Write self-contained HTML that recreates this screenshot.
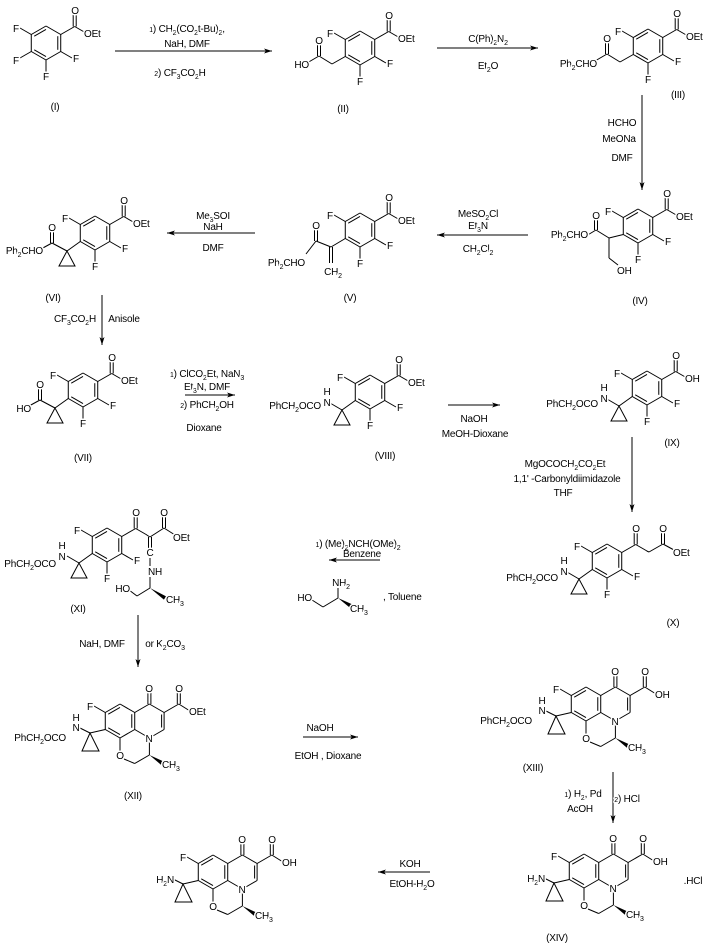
<!DOCTYPE html>
<html><head><meta charset="utf-8"><style>
html,body{margin:0;padding:0;background:#fff;}
svg{display:block}
line,polyline{stroke:#000;stroke-width:1;fill:none}
text{font-family:"Liberation Sans",sans-serif;font-size:10px;letter-spacing:-0.2px;fill:#000;text-anchor:middle;paint-order:stroke;stroke:#fff;stroke-width:3px;stroke-linejoin:round}
text.s{text-anchor:start} text.e{text-anchor:end}
tspan.b{font-size:7px}
</style></head><body>
<svg id="svg" width="710" height="944" viewBox="0 0 710 944" xmlns="http://www.w3.org/2000/svg">
<g id="g"></g>
<g id="tx">
<!-- I -->
<text x="75" y="14">O</text><text x="16" y="32">F</text><text class="s" x="84" y="37">OEt</text><text x="76" y="62">F</text><text x="46" y="80">F</text><text x="16" y="64">F</text>
<text x="55" y="110">(I)</text>
<!-- arrow1 -->
<text x="187" y="32"><tspan class="b">1</tspan>) CH<tspan class="b" dy="3">2</tspan><tspan dy="-3">(CO</tspan><tspan class="b" dy="3">2</tspan><tspan dy="-3">t-Bu)</tspan><tspan class="b" dy="3">2</tspan><tspan dy="-3">,</tspan></text>
<text x="187" y="47">NaH, DMF</text>
<text x="180" y="76"><tspan class="b">2</tspan>) CF<tspan class="b" dy="3">3</tspan><tspan dy="-3">CO</tspan><tspan class="b" dy="3">2</tspan><tspan dy="-3">H</tspan></text>
<!-- II -->
<text x="389" y="19">O</text><text x="330" y="37">F</text><text class="s" x="398" y="42">OEt</text><text x="390" y="67">F</text><text x="360" y="85">F</text>
<text x="319" y="44">O</text><text class="e" x="309" y="68">HO</text>
<text x="343" y="112">(II)</text>
<!-- arrow2 -->
<text x="488" y="42">C(Ph)<tspan class="b" dy="3">2</tspan><tspan dy="-3">N</tspan><tspan class="b" dy="3">2</tspan></text>
<text x="488" y="69">Et<tspan class="b" dy="3">2</tspan><tspan dy="-3">O</tspan></text>
<!-- III -->
<text x="677" y="17">O</text><text x="618" y="35">F</text><text class="s" x="686" y="40">OEt</text><text x="678" y="65">F</text><text x="648" y="83">F</text>
<text x="607" y="42">O</text><text class="e" x="597" y="67">Ph<tspan class="b" dy="3">2</tspan><tspan dy="-3">CHO</tspan></text>
<text x="678" y="98">(III)</text>
<!-- arrow3 -->
<text x="622" y="126">HCHO</text><text x="619" y="142">MeONa</text><text x="622" y="161">DMF</text>
<!-- IV -->
<text x="667" y="197">O</text><text x="608" y="215">F</text><text class="s" x="676" y="220">OEt</text><text x="668" y="245">F</text><text x="638" y="263">F</text>
<text x="596" y="219">O</text><text class="e" x="588" y="238">Ph<tspan class="b" dy="3">2</tspan><tspan dy="-3">CHO</tspan></text>
<text class="s" x="617" y="274">OH</text>
<text x="640" y="304">(IV)</text>
<!-- arrow4 -->
<text x="478" y="217">MeSO<tspan class="b" dy="3">2</tspan><tspan dy="-3">Cl</tspan></text>
<text x="478" y="229">Et<tspan class="b" dy="3">3</tspan><tspan dy="-3">N</tspan></text>
<text x="478" y="252">CH<tspan class="b" dy="3">2</tspan><tspan dy="-3">Cl</tspan><tspan class="b" dy="3">2</tspan></text>
<!-- V -->
<text x="389" y="201">O</text><text x="330" y="219">F</text><text class="s" x="398" y="224">OEt</text><text x="390" y="249">F</text><text x="360" y="267">F</text>
<text x="316" y="229">O</text><text class="e" x="305" y="266">Ph<tspan class="b" dy="3">2</tspan><tspan dy="-3">CHO</tspan></text>
<text x="333" y="275">CH<tspan class="b" dy="3">2</tspan></text>
<text x="350" y="301">(V)</text>
<!-- arrow5 -->
<text x="213" y="219">Me<tspan class="b" dy="3">3</tspan><tspan dy="-3">SOI</tspan></text>
<text x="213" y="230">NaH</text><text x="213" y="251">DMF</text>
<!-- VI -->
<text x="124" y="204">O</text><text x="65" y="222">F</text><text class="s" x="133" y="227">OEt</text><text x="125" y="252">F</text><text x="95" y="270">F</text>
<text x="52" y="231">O</text><text class="e" x="43" y="254">Ph<tspan class="b" dy="3">2</tspan><tspan dy="-3">CHO</tspan></text>
<text x="53" y="301">(VI)</text>
<!-- arrow6 -->
<text x="75" y="322">CF<tspan class="b" dy="3">3</tspan><tspan dy="-3">CO</tspan><tspan class="b" dy="3">2</tspan><tspan dy="-3">H</tspan></text>
<text x="124" y="322">Anisole</text>
<!-- VII -->
<text x="112" y="361">O</text><text x="53" y="379">F</text><text class="s" x="121" y="384">OEt</text><text x="113" y="409">F</text><text x="83" y="427">F</text>
<text x="40" y="388">O</text><text class="e" x="31" y="412">HO</text>
<text x="83" y="461">(VII)</text>
<!-- arrow7 -->
<text x="207" y="377"><tspan class="b">1</tspan>) ClCO<tspan class="b" dy="3">2</tspan><tspan dy="-3">Et, NaN</tspan><tspan class="b" dy="3">3</tspan></text>
<text x="207" y="390">Et<tspan class="b" dy="3">3</tspan><tspan dy="-3">N, DMF</tspan></text>
<text x="207" y="408"><tspan class="b">2</tspan>) PhCH<tspan class="b" dy="3">2</tspan><tspan dy="-3">OH</tspan></text>
<text x="204" y="431">Dioxane</text>
<!-- VIII -->
<text x="399" y="363">O</text><text x="340" y="381">F</text><text class="s" x="408" y="386">OEt</text><text x="400" y="411">F</text><text x="370" y="429">F</text>
<text x="327" y="406">N</text><text x="327" y="395">H</text>
<text class="e" x="321" y="409">PhCH<tspan class="b" dy="3">2</tspan><tspan dy="-3">OCO</tspan></text>
<text x="385" y="459">(VIII)</text>
<!-- arrow8 -->
<text x="474" y="422">NaOH</text><text x="475" y="437">MeOH-Dioxane</text>
<!-- IX -->
<text x="676" y="359">O</text><text x="617" y="377">F</text><text class="s" x="685" y="382">OH</text><text x="677" y="407">F</text><text x="647" y="425">F</text>
<text x="604" y="402">N</text><text x="604" y="391">H</text>
<text class="e" x="598" y="407">PhCH<tspan class="b" dy="3">2</tspan><tspan dy="-3">OCO</tspan></text>
<text x="672" y="446">(IX)</text>
<!-- arrow9 -->
<text x="565" y="467">MgOCOCH<tspan class="b" dy="3">2</tspan><tspan dy="-3">CO</tspan><tspan class="b" dy="3">2</tspan><tspan dy="-3">Et</tspan></text>
<text x="567" y="482">1,1' -Carbonyldiimidazole</text>
<text x="563" y="496">THF</text>
<!-- X -->
<text x="636" y="532">O</text><text x="663" y="532">O</text><text x="577" y="550">F</text><text class="s" x="673" y="556">OEt</text><text x="637" y="580">F</text><text x="607" y="598">F</text>
<text x="564" y="575">N</text><text x="564" y="564">H</text>
<text class="e" x="558" y="581">PhCH<tspan class="b" dy="3">2</tspan><tspan dy="-3">OCO</tspan></text>
<text x="673" y="626">(X)</text>
<!-- arrow10 -->
<text x="358" y="547"><tspan class="b">1</tspan>) (Me)<tspan class="b" dy="3">2</tspan><tspan dy="-3">NCH(OMe)</tspan><tspan class="b" dy="3">2</tspan></text>
<text x="362" y="557" style="stroke-width:0">Benzene</text>
<text x="341" y="586">NH<tspan class="b" dy="3">2</tspan></text>
<text class="e" x="312" y="601">HO</text>
<text class="s" x="350" y="612">CH<tspan class="b" dy="3">3</tspan></text>
<text class="s" x="383" y="600">, Toluene</text>
<!-- XI -->
<text x="136" y="516">O</text><text x="164" y="516">O</text><text x="77" y="534">F</text><text class="s" x="173" y="541">OEt</text><text x="137" y="564">F</text><text x="107" y="582">F</text>
<text x="150" y="556">C</text><text x="155" y="575">NH</text>
<text class="e" x="130" y="592">HO</text><text class="s" x="166" y="603">CH<tspan class="b" dy="3">3</tspan></text>
<text x="62" y="560">N</text><text x="62" y="549">H</text>
<text class="e" x="56" y="567">PhCH<tspan class="b" dy="3">2</tspan><tspan dy="-3">OCO</tspan></text>
<text x="78" y="612">(XI)</text>
<!-- arrow11 -->
<text x="102" y="647">NaH, DMF</text>
<text x="165" y="647">or K<tspan class="b" dy="3">2</tspan><tspan dy="-3">CO</tspan><tspan class="b" dy="3">3</tspan></text>
<!-- XII (120,721) -->
<text x="90" y="710">F</text><text x="149" y="692">O</text><text x="179" y="692">O</text><text class="s" x="189" y="715">OEt</text>
<text x="149" y="742">N</text><text x="120" y="759">O</text><text class="s" x="162" y="768">CH<tspan class="b" dy="3">3</tspan></text>
<text x="76" y="731">N</text><text x="76" y="721">H</text>
<text class="e" x="66" y="741">PhCH<tspan class="b" dy="3">2</tspan><tspan dy="-3">OCO</tspan></text>
<text x="133" y="799">(XII)</text>
<!-- arrow12 -->
<text x="320" y="731">NaOH</text><text x="328" y="759">EtOH , Dioxane</text>
<!-- XIII (586,704) -->
<text x="556" y="693">F</text><text x="615" y="675">O</text><text x="645" y="675">O</text><text class="s" x="655" y="698">OH</text>
<text x="615" y="725">N</text><text x="586" y="742">O</text><text class="s" x="628" y="751">CH<tspan class="b" dy="3">3</tspan></text>
<text x="542" y="714">N</text><text x="542" y="704">H</text>
<text class="e" x="532" y="724">PhCH<tspan class="b" dy="3">2</tspan><tspan dy="-3">OCO</tspan></text>
<text x="533" y="771">(XIII)</text>
<!-- arrow13 -->
<text x="583" y="797"><tspan class="b">1</tspan>) H<tspan class="b" dy="3">2</tspan><tspan dy="-3">, Pd</tspan></text>
<text x="580" y="812">AcOH</text>
<text x="627" y="802"><tspan class="b">2</tspan>) HCl</text>
<!-- XIV (584,871) -->
<text x="554" y="860">F</text><text x="613" y="842">O</text><text x="643" y="842">O</text><text class="s" x="653" y="865">OH</text>
<text x="613" y="892">N</text><text x="584" y="909">O</text><text class="s" x="626" y="918">CH<tspan class="b" dy="3">3</tspan></text>
<text class="e" x="545" y="882">H<tspan class="b" dy="3">2</tspan><tspan dy="-3">N</tspan></text>
<text x="693" y="884">.HCl</text>
<text x="557" y="941">(XIV)</text>
<!-- arrow14 -->
<text x="410" y="867">KOH</text><text x="412" y="887">EtOH-H<tspan class="b" dy="3">2</tspan><tspan dy="-3">O</tspan></text>
<!-- XV (213,872) -->
<text x="183" y="861">F</text><text x="242" y="843">O</text><text x="272" y="843">O</text><text class="s" x="282" y="866">OH</text>
<text x="242" y="893">N</text><text x="213" y="910">O</text><text class="s" x="255" y="919">CH<tspan class="b" dy="3">3</tspan></text>
<text class="e" x="174" y="883">H<tspan class="b" dy="3">2</tspan><tspan dy="-3">N</tspan></text>
</g>
</svg>
<script>
const NS='http://www.w3.org/2000/svg',G=document.getElementById('g');
function el(t,a){const e=document.createElementNS(NS,t);for(const k in a)e.setAttribute(k,a[k]);G.appendChild(e);return e;}
function L(x1,y1,x2,y2){el('line',{x1,y1,x2,y2});}
function D2(x1,y1,x2,y2,o){const dx=x2-x1,dy=y2-y1,l=Math.hypot(dx,dy),nx=-dy/l*o,ny=dx/l*o;L(x1+nx,y1+ny,x2+nx,y2+ny);L(x1-nx,y1-ny,x2-nx,y2-ny);}
function P(pts,f){el('polygon',{points:pts.map(p=>p.join(',')).join(' '),fill:f||'#000',stroke:f?'none':'#000','stroke-width':1});}
function tri3(a,b,c){el('polygon',{points:[a,b,c].map(p=>p.join(',')).join(' '),fill:'none',stroke:'#000','stroke-width':1});}
function W(x1,y1,x2,y2){const dx=x2-x1,dy=y2-y1,l=Math.hypot(dx,dy),nx=-dy/l*2,ny=dx/l*2;P([[x1,y1],[x2+nx,y2+ny],[x2-nx,y2-ny]],'#000');}
function A(x1,y1,x2,y2){L(x1,y1,x2,y2);const dx=x2-x1,dy=y2-y1,l=Math.hypot(dx,dy),ux=dx/l,uy=dy/l;P([[x2,y2],[x2-ux*8-uy*2.5,y2-uy*8+ux*2.5],[x2-ux*6,y2-uy*6],[x2-ux*8+uy*2.5,y2-uy*8-ux*2.5]],'#000');}
function ring(cx,cy,dbl){const r=17,v=[];for(let i=0;i<6;i++){const a=(-90+60*i)*Math.PI/180;v.push([cx+r*Math.cos(a),cy+r*Math.sin(a)]);}
 for(let i=0;i<6;i++){const p=v[i],q=v[(i+1)%6];L(p[0],p[1],q[0],q[1]);}
 (dbl||[5,1,3]).forEach(i=>{const p=v[i],q=v[(i+1)%6],f=.2;L(p[0]+(cx-p[0])*f,p[1]+(cy-p[1])*f,q[0]+(cx-q[0])*f,q[1]+(cy-q[1])*f);});return v;}
function std(cx,cy){const v=ring(cx,cy);const C=[cx+28.7,cy-16.5];L(v[1][0],v[1][1],C[0],C[1]);D2(C[0],C[1],C[0],cy-29,1.5);L(C[0],C[1],cx+40,cy-10);
 L(v[5][0],v[5][1],cx-26,cy-15);L(v[2][0],v[2][1],cx+26,cy+15);L(v[3][0],v[3][1],cx,cy+29);return v;}
function cq(cx,cy){const v4=[cx-14.7,cy+8.5];const q=[cx-28,cy+18];L(v4[0],v4[1],q[0],q[1]);tri3(q,[cx-36,cy+33],[cx-20,cy+33]);return q;}
function carb(cx,cy){const q=cq(cx,cy);L(q[0],q[1],cx-40,cy+11);}
let v=std(46,43);L(v[4][0],v[4][1],20,58);
v=std(360,48);L(v[4][0],v[4][1],332,64);L(332,64,319,56);D2(319,56,319,44,1.5);L(319,56,307,63);
v=std(648,46);L(v[4][0],v[4][1],620,62);L(620,62,607,54);D2(607,54,607,42,1.5);L(607,54,595,61);
A(642,95,642,190);
v=std(638,226);L(v[4][0],v[4][1],609,238);L(609,238,596,230);D2(596,230,596,218,1.5);L(596,230,586,236);L(609,238,609,258);L(609,258,618,265);
A(528,235,437,235);
v=std(360,230);L(v[4][0],v[4][1],331,247);D2(331,247,331,263,1.5);L(331,247,316,241);D2(316,241,316,229,1.5);L(316,241,306,254);
A(255,233,167,233);
std(95,233);let q=cq(95,233);L(q[0],q[1],52,243);D2(52,243,52,231,1.5);L(52,243,41,249);
A(102,295,102,345);
std(83,390);q=cq(83,390);L(q[0],q[1],40,400);D2(40,400,40,388,1.5);L(40,400,29,406);
A(185,395,235,395);
std(370,392);carb(370,392);
A(448,405,500,405);
std(647,388);carb(647,388);
A(632,437,632,512);
std(607,561);carb(607,561);L(646.7,551,649,552);L(649,552,663,544);D2(663,544,663,532,1.5);L(663,544,674,550);
A(380,560,329,560);
L(312,600,323,607);L(323,607,338,598);L(338,598,338,588);W(338,598,351,606);
std(107,545);carb(107,545);L(146.7,535,150,537);L(150,537,164,528);D2(164,528,164,516,1.5);L(164,528,175,535);
D2(150,537,150,549,1.5);L(150,558,150,566);L(150,577,150,588);L(150,588,137,596);L(137,596,129,590);W(150,588,165,598);
A(138,615,138,667);
function tri(cx,cy){const a=ring(cx,cy,[5,1,3]);const bx=cx+29.4;const b=[[bx,cy-17],[bx+14.7,cy-8.5],[bx+14.7,cy+8.5],[bx,cy+17]];
 L(a[1][0],a[1][1],b[0][0],b[0][1]);L(b[0][0],b[0][1],b[1][0],b[1][1]);L(b[1][0],b[1][1],b[2][0],b[2][1]);
 L(b[1][0]-2.5,b[1][1]+2,b[2][0]-2.5,b[2][1]-2);
 L(b[2][0],b[2][1],b[3][0],b[3][1]);L(b[3][0],b[3][1],a[2][0],a[2][1]);
 L(a[3][0],a[3][1],cx,cy+30);L(cx+4,cy+38,cx+14.7,cy+42.5);L(cx+14.7,cy+42.5,bx,cy+34);L(bx,cy+34,bx,cy+17);
 W(bx,cy+34,cx+42,cy+42);
 D2(bx,cy-17,bx,cy-30,1.5);
 L(b[1][0],b[1][1],cx+58.8,cy-17);D2(cx+58.8,cy-17,cx+58.8,cy-30,1.5);L(cx+58.8,cy-17,cx+70,cy-10);
 L(a[5][0],a[5][1],cx-26,cy-15);
 const qq=[cx-30,cy+12];L(a[4][0],a[4][1],qq[0],qq[1]);tri3(qq,[cx-38,cy+30],[cx-21,cy+30]);L(qq[0],qq[1],cx-42,cy+6);}
tri(120,721);A(303,737,358,737);
tri(586,704);A(613,772,613,823);
tri(584,871);A(430,872,378,872);
tri(213,872);
A(115,51,272,51);A(437,48,538,48);
</script>
</body></html>
